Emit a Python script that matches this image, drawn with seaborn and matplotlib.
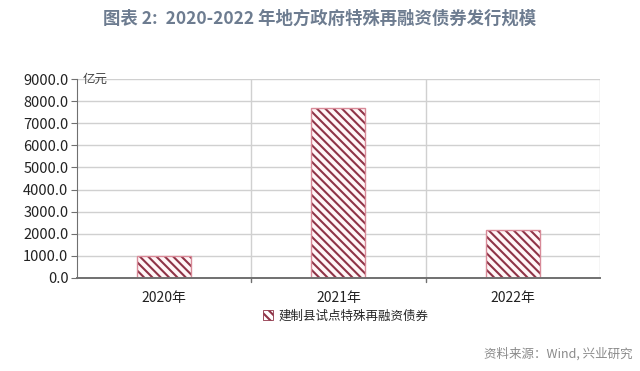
import matplotlib
matplotlib.use("Agg")
import matplotlib.pyplot as plt
import seaborn as sb
from matplotlib.ticker import FuncFormatter, MultipleLocator
from matplotlib.patches import Patch, Rectangle

years = ["2020年", "2021年", "2022年"]
issued = [1000.0, 7668.0, 2180.0]
series_name = "建制县试点特殊再融资债券"

sb.set_style("white")
plt.rcParams["font.family"] = ["Noto Sans CJK SC", "DejaVu Sans"]
plt.rcParams["hatch.linewidth"] = 1.5

hatch_col = "#8f3347"
edge_col = "#d88a98"

fig = plt.figure(figsize=(6.4, 3.71), dpi=100)
ax = fig.add_axes([0.120, 0.2507, 0.8175, 0.5363])

sb.barplot(x=years, y=issued, color="white", width=0.31, ax=ax)
for p in list(ax.patches):
    p.set_facecolor("#fff6f7")
    p.set_edgecolor(hatch_col)
    p.set_hatch("\\" * 4)
    p.set_linewidth(0)
    # pink outline on top of the hatched bar
    ax.add_patch(Rectangle(p.get_xy(), p.get_width(), p.get_height(), fill=False,
                           edgecolor=edge_col, linewidth=1.0, zorder=p.get_zorder() + 0.1))

ax.set_ylim(0, 9000)
ax.set_xlim(-0.5, 2.5)
ax.yaxis.set_major_locator(MultipleLocator(1000))
ax.yaxis.set_major_formatter(FuncFormatter(lambda v, _: f"{v:.1f}"))
ax.grid(axis="y", color="#d0d0d0", linewidth=1.0)
for xb in [0.5, 1.5, 2.5]:
    ax.axvline(xb, color="#d0d0d0", linewidth=1.0, zorder=0)
ax.set_axisbelow(True)

for s in ["top", "right"]:
    ax.spines[s].set_visible(False)
ax.spines["left"].set_color("#707070")
ax.spines["bottom"].set_color("#707070")
ax.spines["bottom"].set_linewidth(1.4)

ax.tick_params(axis="y", left=True, length=4, color="#707070", labelsize=10.5, labelcolor="#222222", pad=2)
ax.tick_params(axis="x", bottom=False, labelsize=10, labelcolor="#222222", pad=6)
for xb in [0.5, 1.5]:
    ax.plot([xb, xb], [0, -0.02], transform=ax.get_xaxis_transform(), color="#707070",
            linewidth=1.0, clip_on=False)
ax.set_xlabel("")
ax.set_ylabel("")
ax.text(0.012, 1.0, "亿元", transform=ax.transAxes, fontsize=9, color="#444444",
        style="italic", va="center", ha="left")

handle = Patch(facecolor="white", edgecolor=hatch_col, hatch="\\" * 4, linewidth=0.6, label=series_name)
fig.legend(handles=[handle], loc="center", bbox_to_anchor=(0.54, 0.148), frameon=False,
           fontsize=9, handlelength=0.8, handleheight=0.8, handletextpad=0.4)

fig.text(0.5, 0.951, "图表 2:  2020-2022 年地方政府特殊再融资债券发行规模", ha="center", va="center",
         fontsize=12.5, fontweight="semibold", color="#6d7c90")
fig.text(0.988, 0.046, "资料来源：Wind, 兴业研究", ha="right", va="center", fontsize=9, color="#8a8a8a")

fig.savefig("out.png", dpi=100)
